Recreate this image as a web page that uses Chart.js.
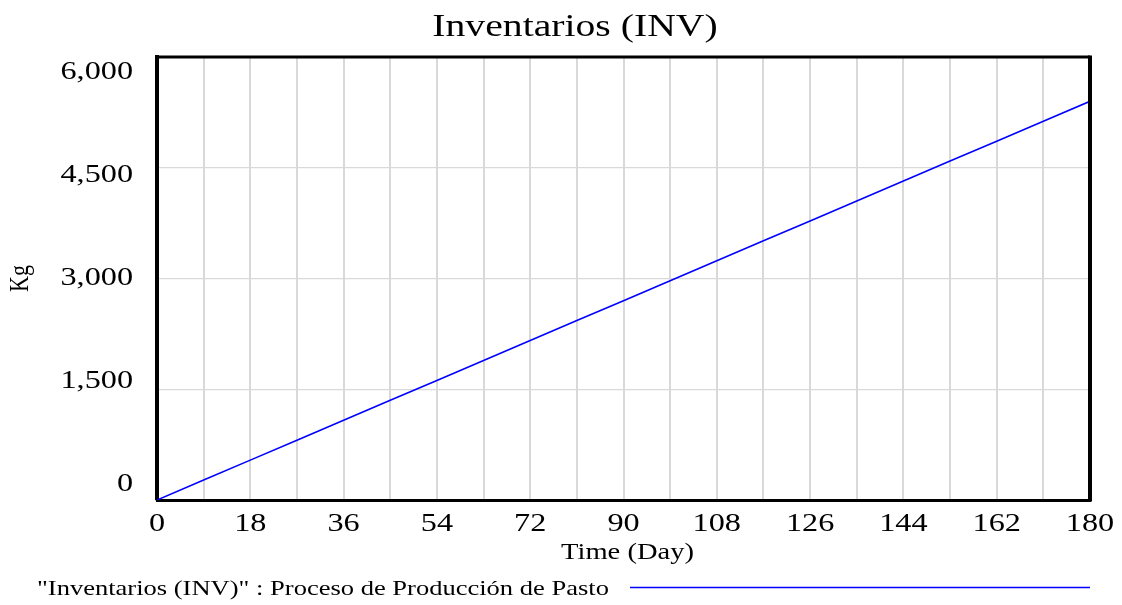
<!DOCTYPE html>
<html>
<head>
<meta charset="utf-8">
<script src="https://cdn.jsdelivr.net/npm/chart.js@4/dist/chart.umd.min.js"></script>
<style>
  html, body { margin: 0; padding: 0; background: #ffffff; }
  #c { display: block; }
</style>
</head>
<body>
<canvas id="c" width="1122" height="605"></canvas>
<script>
// ---- data ----
const chartTitle = 'Inventarios (INV)';
const seriesLabel = '"Inventarios (INV)" : Proceso de Producción de Pasto';
const xAxisTitle = 'Time (Day)';
const yAxisTitle = 'Kg';
const timeDays = [0, 9, 18, 27, 36, 45, 54, 63, 72, 81, 90, 99, 108, 117, 126, 135, 144, 153, 162, 171, 180];
const inventoryKg = [0, 270, 540, 810, 1080, 1350, 1620, 1890, 2160, 2430, 2700, 2970, 3240, 3510, 3780, 4050, 4320, 4590, 4860, 5130, 5400];
const xTickLabels = [0, 18, 36, 54, 72, 90, 108, 126, 144, 162, 180];
const yTickLabels = [0, 1500, 3000, 4500, 6000];

const SERIF = '"Liberation Serif", "DejaVu Serif", serif';
const SX = 1.24; // horizontal stretch of the reference's text

function drawText(ctx, text, x, y, size, align, baseline) {
  ctx.save();
  ctx.translate(x, y);
  ctx.scale(SX, 1);
  ctx.font = size + 'px ' + SERIF;
  ctx.fillStyle = '#000000';
  ctx.textAlign = align;
  ctx.textBaseline = baseline;
  ctx.fillText(text, 0, 0);
  ctx.restore();
}

const textPlugin = {
  id: 'textPlugin',
  beforeDraw(chart) {
    const ctx = chart.ctx;
    ctx.save();
    ctx.fillStyle = '#ffffff';
    ctx.fillRect(0, 0, chart.width, chart.height);
    ctx.restore();
  },
  afterDraw(chart) {
    const ctx = chart.ctx;
    const a = chart.chartArea;
    const xs = chart.scales.x, ys = chart.scales.y;

    // frame (top and right sides)
    ctx.save();
    ctx.strokeStyle = '#000000';
    ctx.lineWidth = 3;
    ctx.beginPath();
    ctx.moveTo(a.left, a.top);
    ctx.lineTo(a.right, a.top);
    ctx.stroke();
    ctx.lineWidth = 4;
    ctx.beginPath();
    ctx.moveTo(a.right, a.top - 1.5);
    ctx.lineTo(a.right, a.bottom + 1.5);
    ctx.stroke();
    ctx.restore();

    // title
    drawText(ctx, chartTitle, 575, 36, 32, 'center', 'alphabetic');

    // y tick labels (slightly compressed toward the middle, like the reference)
    const mid = (a.top + a.bottom) / 2;
    yTickLabels.forEach(v => {
      const p = ys.getPixelForValue(v);
      const yy = mid + (p - mid) * 0.93;
      drawText(ctx, v.toLocaleString('en-US'), a.left - 24, yy, 26, 'right', 'middle');
    });

    // x tick labels
    xTickLabels.forEach(v => {
      const p = xs.getPixelForValue(v);
      drawText(ctx, String(v), p, a.bottom + 24, 26, 'center', 'middle');
    });

    // axis titles
    drawText(ctx, xAxisTitle, (a.left + a.right) / 2 + 4, a.bottom + 53, 23, 'center', 'middle');
    ctx.save();
    ctx.translate(21, mid);
    ctx.rotate(-Math.PI / 2);
    ctx.scale(1, SX);
    ctx.font = '22px ' + SERIF;
    ctx.fillStyle = '#000000';
    ctx.textAlign = 'center';
    ctx.textBaseline = 'middle';
    ctx.fillText(yAxisTitle, 0, 0);
    ctx.restore();

    // legend
    const ds = chart.data.datasets[0];
    drawText(ctx, ds.label, 37, 589, 21.4, 'left', 'middle');
    ctx.save();
    ctx.strokeStyle = ds.borderColor;
    ctx.lineWidth = 1.5;
    ctx.beginPath();
    ctx.moveTo(630, 587.5);
    ctx.lineTo(a.right, 587.5);
    ctx.stroke();
    ctx.restore();
  }
};

new Chart(document.getElementById('c'), {
  type: 'line',
  data: {
    datasets: [{
      label: seriesLabel,
      data: timeDays.map((t, i) => ({ x: t, y: inventoryKg[i] })),
      borderColor: '#0000ff',
      borderWidth: 1.6,
      pointRadius: 0,
      fill: false,
      tension: 0
    }]
  },
  options: {
    responsive: false,
    animation: false,
    layout: { padding: { top: 57, right: 32, bottom: 0, left: 0 } },
    plugins: {
      legend: { display: false },
      title: { display: false },
      tooltip: { enabled: false }
    },
    scales: {
      x: {
        type: 'linear',
        min: 0,
        max: 180,
        ticks: { display: false, stepSize: 9 },
        grid: { color: '#d9d9d9', lineWidth: 2, drawTicks: false },
        border: { display: true, color: '#000000', width: 3 },
        afterFit(scale) { scale.height = 105; }
      },
      y: {
        type: 'linear',
        min: 0,
        max: 6000,
        ticks: { display: false, stepSize: 1500 },
        grid: { color: '#d9d9d9', lineWidth: 1.2, drawTicks: false },
        border: { display: true, color: '#000000', width: 4 },
        afterFit(scale) { scale.width = 157; }
      }
    }
  },
  plugins: [textPlugin]
});
</script>
</body>
</html>
